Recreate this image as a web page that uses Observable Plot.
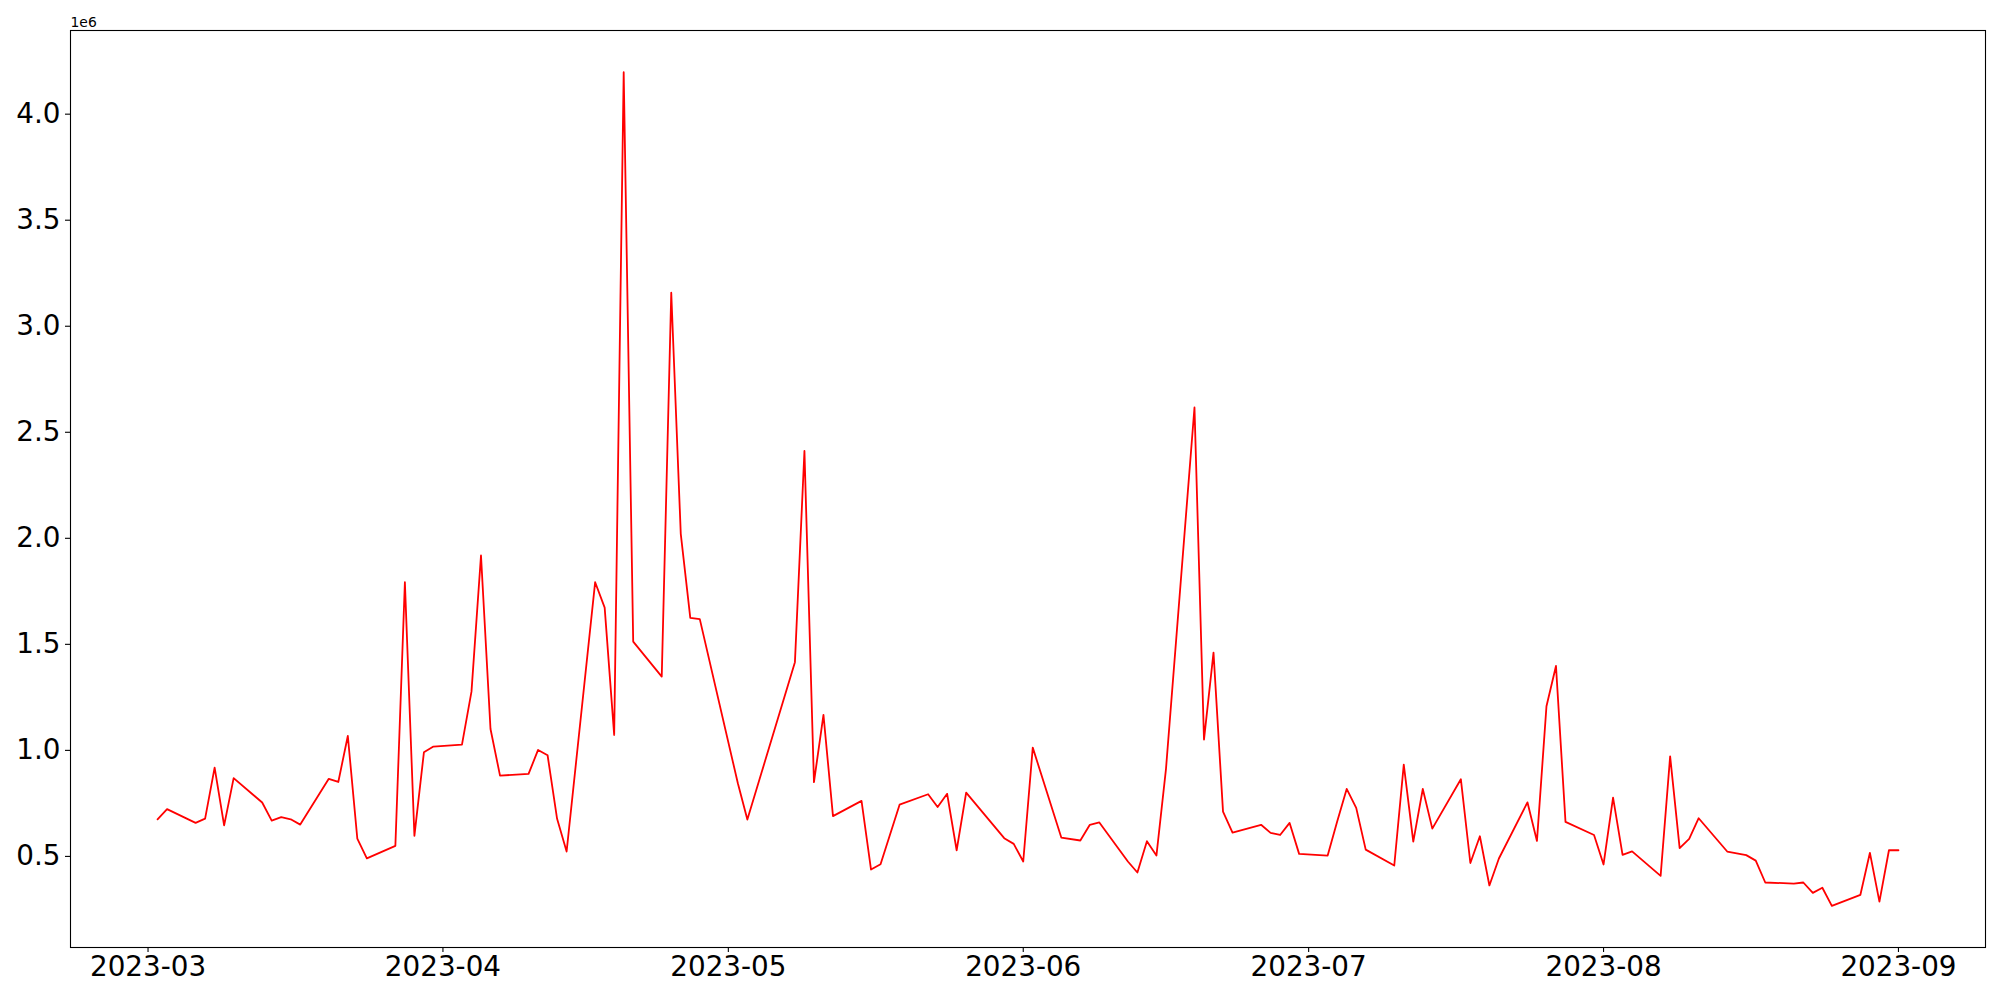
<!DOCTYPE html>
<html>
<head>
<meta charset="utf-8">
<script src="https://cdn.jsdelivr.net/npm/d3@7"></script>
<script src="https://cdn.jsdelivr.net/npm/@observablehq/plot@0.6"></script>
<style>
  html, body { margin: 0; padding: 0; background: white; }
  #chart svg { display: block; }
</style>
</head>
<body>
<div id="chart"></div>
<script>
const dates = [
  "2023-03-02","2023-03-03","2023-03-06","2023-03-07","2023-03-08","2023-03-09","2023-03-10",
  "2023-03-13","2023-03-14","2023-03-15","2023-03-16","2023-03-17",
  "2023-03-20","2023-03-21","2023-03-22","2023-03-23","2023-03-24",
  "2023-03-27","2023-03-28","2023-03-29","2023-03-30","2023-03-31",
  "2023-04-03","2023-04-04","2023-04-05","2023-04-06","2023-04-07",
  "2023-04-10","2023-04-11","2023-04-12","2023-04-13","2023-04-14",
  "2023-04-17","2023-04-18","2023-04-19","2023-04-20","2023-04-21",
  "2023-04-24","2023-04-25","2023-04-26","2023-04-27","2023-04-28",
  "2023-05-02","2023-05-03","2023-05-08","2023-05-09","2023-05-10","2023-05-11","2023-05-12",
  "2023-05-15","2023-05-16","2023-05-17","2023-05-19",
  "2023-05-22","2023-05-23","2023-05-24","2023-05-25","2023-05-26",
  "2023-05-30","2023-05-31","2023-06-01","2023-06-02",
  "2023-06-05","2023-06-07","2023-06-08","2023-06-09",
  "2023-06-12","2023-06-13","2023-06-14","2023-06-15","2023-06-16",
  "2023-06-19","2023-06-20","2023-06-21","2023-06-22","2023-06-23",
  "2023-06-26","2023-06-27","2023-06-28","2023-06-29","2023-06-30",
  "2023-07-03","2023-07-04","2023-07-05","2023-07-06","2023-07-07",
  "2023-07-10","2023-07-11","2023-07-12","2023-07-13","2023-07-14",
  "2023-07-17","2023-07-18","2023-07-19","2023-07-20","2023-07-21",
  "2023-07-24","2023-07-25","2023-07-26","2023-07-27","2023-07-28",
  "2023-07-31","2023-08-01","2023-08-02","2023-08-03","2023-08-04",
  "2023-08-07","2023-08-08","2023-08-09","2023-08-10","2023-08-11",
  "2023-08-14","2023-08-16","2023-08-17","2023-08-18",
  "2023-08-21","2023-08-22","2023-08-23","2023-08-24","2023-08-25",
  "2023-08-28","2023-08-29","2023-08-30","2023-08-31","2023-09-01"
];

const values = [
  675000, 723000, 658000, 678000, 919000, 646000, 869000,
  754000, 669000, 685000, 675000, 650000,
  866000, 851000, 1068000, 584000, 491000,
  550000, 1793000, 597000, 991000, 1018000,
  1027000, 1277000, 1919000, 1101000, 881000,
  889000, 1002000, 977000, 677000, 523000,
  1793000, 1673000, 1073000, 4198000, 1513000,
  1348000, 3158000, 2021000, 1625000, 1619000,
  845000, 674000, 1416000, 2412000, 850000, 1167000, 690000,
  762000, 438000, 463000, 744000,
  793000, 733000, 795000, 529000, 801000,
  586000, 559000, 476000, 1013000,
  589000, 575000, 649000, 660000,
  476000, 424000, 572000, 504000, 910000,
  2617000, 1051000, 1461000, 711000, 612000,
  649000, 611000, 601000, 658000, 512000,
  504000, 665000, 818000, 729000, 532000,
  457000, 933000, 570000, 818000, 631000,
  864000, 469000, 595000, 363000, 490000,
  755000, 573000, 1208000, 1398000, 663000,
  601000, 462000, 777000, 507000, 524000,
  408000, 972000, 539000, 583000, 680000,
  523000, 506000, 480000, 377000,
  372000, 377000, 328000, 352000, 267000,
  319000, 517000, 287000, 529000, 529000
];

const xTickLabels = ["2023-03","2023-04","2023-05","2023-06","2023-07","2023-08","2023-09"];
const yTickValues = [500000, 1000000, 1500000, 2000000, 2500000, 3000000, 3500000, 4000000];
const offsetLabel = "1e6";

const parse = d3.utcParse("%Y-%m-%d");
const data = dates.map((d, i) => ({date: parse(d), value: values[i]}));
const xTicks = xTickLabels.map(s => d3.utcParse("%Y-%m")(s));

// matplotlib-style 5% margins around the data extent
const [x0, x1] = d3.extent(data, d => +d.date);
const xPad = (x1 - x0) * 0.05;
const [y0, y1] = d3.extent(values);
const yPad = (y1 - y0) * 0.05;

const FS = 27.8;
const chart = Plot.plot({
  width: 2000,
  height: 1000,
  marginLeft: 70,
  marginRight: 15,
  marginTop: 30,
  marginBottom: 53,
  style: {fontFamily: "DejaVu Sans, sans-serif", fontSize: FS + "px", color: "black", background: "white"},
  x: {type: "utc", domain: [new Date(x0 - xPad), new Date(x1 + xPad)]},
  y: {domain: [y0 - yPad, y1 + yPad]},
  marks: [
    Plot.axisX({ticks: xTicks, tickFormat: d3.utcFormat("%Y-%m"), tickSize: 5, tickPadding: 4, label: null, fontSize: FS, strokeWidth: 1.1}),
    Plot.axisY({ticks: yTickValues, tickFormat: d => (d / 1e6).toFixed(1), tickSize: 5, tickPadding: 5, label: null, fontSize: FS, strokeWidth: 1.1}),
    Plot.lineY(data, {x: "date", y: "value", stroke: "red", strokeWidth: 1.8}),
    Plot.frame({stroke: "black", strokeWidth: 1.1}),
    Plot.text([offsetLabel], {frameAnchor: "top-left", text: d => d, textAnchor: "start", lineAnchor: "bottom", dy: -4, fontSize: 13.9})
  ]
});
document.getElementById("chart").appendChild(chart);
</script>
</body>
</html>
